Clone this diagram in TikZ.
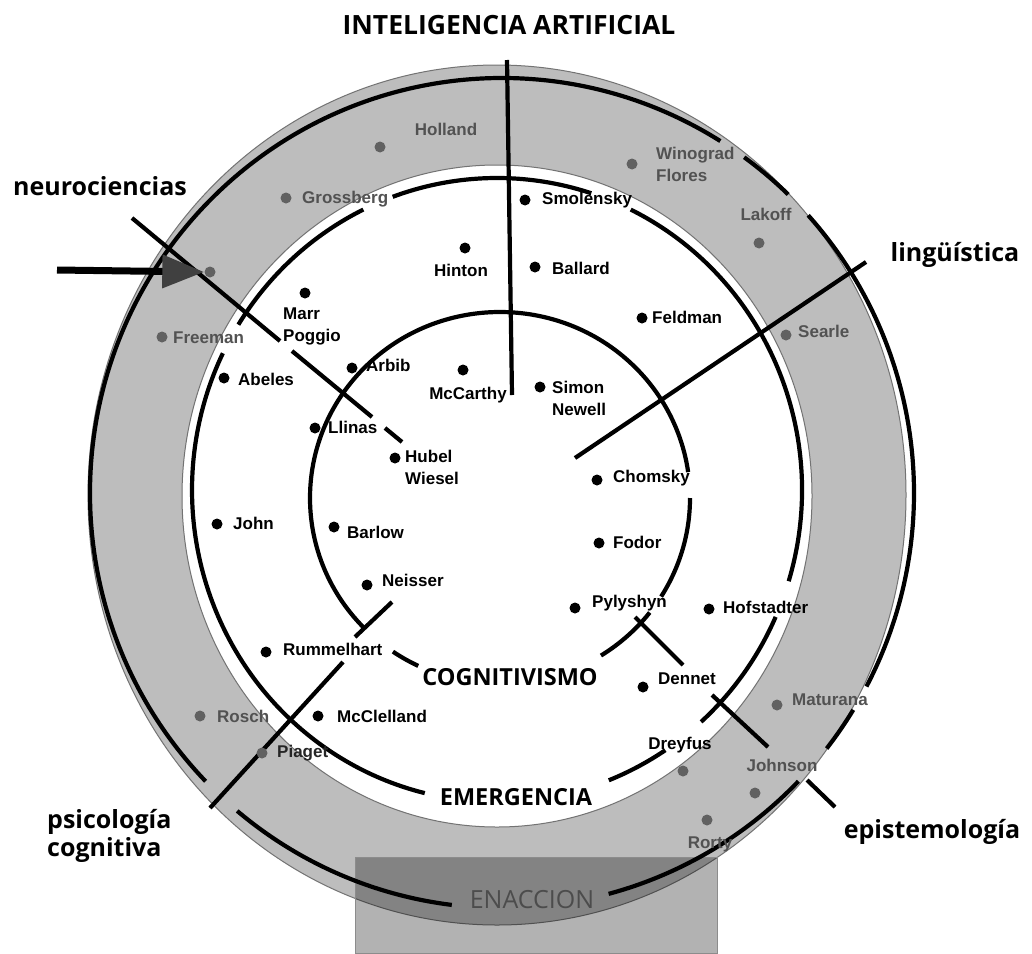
\documentclass[tikz,border=0pt]{standalone}
\usepackage{fontspec}
\setmainfont{Liberation Sans}
\newfontfamily\fieldfont{Open Sans}
\usetikzlibrary{arrows.meta,positioning}

\begin{document}
\begin{tikzpicture}[x=1pt,y=-1pt,
    ring/.style={fill=black!26,draw=black!55,line width=1pt,even odd rule},
    circ/.style={line width=4.2pt},
    axis/.style={line width=4.2pt},
    dot/.style={circle,fill=black,inner sep=0pt,minimum size=11pt},
    gdot/.style={circle,fill=black!62,inner sep=0pt,minimum size=11pt},
    who/.style={font=\fontsize{17}{22}\selectfont\bfseries,inner sep=0pt,align=left},
    gwho/.style={who,text=black!68},
    field/.style={font=\fieldfont\fontsize{25}{28}\selectfont\bfseries,inner sep=0pt,align=left},
    school/.style={font=\fieldfont\fontsize{23.5}{28}\selectfont\bfseries,inner sep=0pt}]
\useasboundingbox (0,0) rectangle (1032,953);
\fill[white] (0,0) rectangle (1032,953);

% the three centres
\coordinate (enac) at (502,493);
\coordinate (emer) at (497,490);
\coordinate (cogn) at (500,498);

% grey ring and the box at the bottom
\fill[ring] (497,495) ellipse[x radius=409,y radius=430] (497,496) ellipse[x radius=315,y radius=331];
\filldraw[fill=black,fill opacity=.3,draw=black!45] (355,857) rectangle (717,953);

% ENACCION
\draw[circ] (enac) ++(97:412 and 415) arc[start angle=97,end angle=130,x radius=412,y radius=415];
\draw[circ] (enac) ++(136:412 and 415) arc[start angle=136,end angle=302,x radius=412,y radius=415];
\draw[circ] (enac) ++(306:412 and 415) arc[start angle=306,end angle=314,x radius=412,y radius=415];
\draw[circ] (enac) ++(318:412 and 415) arc[start angle=318,end angle=387.8,x radius=412,y radius=415];
\draw[circ] (enac) ++(391.5:412 and 415) arc[start angle=391.5,end angle=398,x radius=412,y radius=415];
\draw[circ] (enac) ++(404:412 and 415) arc[start angle=404,end angle=435,x radius=412,y radius=415];
% EMERGENCIA
\draw[circ] (emer) ++(103.7:305 and 312) arc[start angle=103.7,end angle=206,x radius=305,y radius=312];
\draw[circ] (emer) ++(212:305 and 312) arc[start angle=212,end angle=244,x radius=305,y radius=312];
\draw[circ] (emer) ++(250:305 and 312) arc[start angle=250,end angle=288,x radius=305,y radius=312];
\draw[circ] (emer) ++(296:305 and 312) arc[start angle=296,end angle=377,x radius=305,y radius=312];
\draw[circ] (emer) ++(384:305 and 312) arc[start angle=384,end angle=408,x radius=305,y radius=312];
\draw[circ] (emer) ++(416.5:305 and 312) arc[start angle=416.5,end angle=428.5,x radius=305,y radius=312];
% COGNITIVISMO
\draw[circ] (cogn) ++(115.5:190 and 186) arc[start angle=115.5,end angle=124.3,x radius=190,y radius=186];
\draw[circ] (cogn) ++(136:190 and 186) arc[start angle=136,end angle=352,x radius=190,y radius=186];
\draw[circ] (cogn) ++(360:190 and 186) arc[start angle=360,end angle=392,x radius=190,y radius=186];
\draw[circ] (cogn) ++(398:190 and 186) arc[start angle=398,end angle=417.9,x radius=190,y radius=186];

% dividing lines
\coordinate (ia-a) at (507,60);   \coordinate (ia-b) at (512,395);
\coordinate (li-a) at (866,262);  \coordinate (li-b) at (575,458);
\coordinate (ne-a) at (132,218);  \coordinate (ne-b) at (280,341);
\coordinate (ne-c) at (292,351);  \coordinate (ne-d) at (372,417);
\coordinate (ne-e) at (385,428);  \coordinate (ne-f) at (402,442);
\coordinate (ps-a) at (210,808);  \coordinate (ps-b) at (343,662);
\coordinate (ps-c) at (355,637);  \coordinate (ps-d) at (392,602);
\coordinate (ep-a) at (635,617);  \coordinate (ep-b) at (683,665);
\coordinate (ep-c) at (712,695);  \coordinate (ep-d) at (768,747);
\coordinate (ep-e) at (807,780);  \coordinate (ep-f) at (835,807);
\draw[axis] (ia-a) -- (ia-b);
\draw[axis] (li-a) -- (li-b);
\draw[axis] (ne-a) -- (ne-b) (ne-c) -- (ne-d) (ne-e) -- (ne-f);
\draw[axis] (ps-a) -- (ps-b) (ps-c) -- (ps-d);
\draw[axis] (ep-a) -- (ep-b) (ep-c) -- (ep-d) (ep-e) -- (ep-f);

% people in the ring
\node[gdot] (holland) at (380,147) {};
\node[gwho] (holland-t) at (446,129) {Holland};
\node[gdot] (grossberg) at (286,198) {};
\node[gwho,anchor=west] (grossberg-t) at (302,199) {Grossberg};
\node[gdot] (freeman) at (162,337) {};
\node[gwho,anchor=west] (freeman-t) at (173,338) {Freeman};
\node[gdot] (arrowdot) at (210,272) {};
\node[gdot] (winograd) at (632,164) {};
\node[gwho,anchor=west] (winograd-t) at (656,164) {Winograd\\Flores};
\node[gdot] (lakoff) at (759,243) {};
\node[gwho] (lakoff-t) at (766,214) {Lakoff};
\node[gdot] (searle) at (786,335) {};
\node[gwho,anchor=west] (searle-t) at (798,331) {Searle};
\node[gdot] (maturana) at (777,705) {};
\node[gwho,anchor=west] (maturana-t) at (792,700) {Maturana};
\node[gdot] (johnson) at (755,793) {};
\node[gwho] (johnson-t) at (782,765) {Johnson};
\node[gdot] (rorty) at (707,820) {};
\node[gwho] (rorty-t) at (710,844) {Rorty};
\node[gdot] (dreyfus) at (683,771) {};
\node[who] (dreyfus-t) at (680,745) {Dreyfus};
\node[gdot] (rosch) at (200,716) {};
\node[gwho,anchor=west] (rosch-t) at (217,716) {Rosch};
\node[gdot] (piaget) at (262,753) {};
\node[gwho,anchor=west,text=black!85] (piaget-t) at (277,753) {Piaget};

% people inside
\node[dot] (abeles) at (224,378) {};
\node[who,anchor=west] (abeles-t) at (238,379) {Abeles};
\node[dot] (marr) at (305,293) {};
\node[who,anchor=west] (marr-t) at (283,326) {Marr\\Poggio};
\node[dot] (arbib) at (352,368) {};
\node[who,anchor=west] (arbib-t) at (366,365) {Arbib};
\node[dot] (llinas) at (315,428) {};
\node[who,anchor=west] (llinas-t) at (328,427) {Llinas};
\node[dot] (hubel) at (395,458) {};
\node[who,anchor=west] (hubel-t) at (405,467) {Hubel\\Wiesel};
\node[dot] (mccarthy) at (463,370) {};
\node[who] (mccarthy-t) at (468,395) {McCarthy};
\node[dot] (hinton) at (465,248) {};
\node[who] (hinton-t) at (461,270) {Hinton};
\node[dot] (smolensky) at (525,200) {};
\node[who,anchor=west] (smolensky-t) at (542,200) {Smolensky};
\node[dot] (ballard) at (535,267) {};
\node[who,anchor=west] (ballard-t) at (552,268) {Ballard};
\node[dot] (feldman) at (642,318) {};
\node[who,anchor=west] (feldman-t) at (652,317) {Feldman};
\node[dot] (simon) at (540,387) {};
\node[who,anchor=west] (simon-t) at (552,398) {Simon\\Newell};
\node[dot] (chomsky) at (597,480) {};
\node[who,anchor=west] (chomsky-t) at (613,478) {Chomsky};
\node[dot] (fodor) at (599,543) {};
\node[who,anchor=west] (fodor-t) at (613,542) {Fodor};
\node[dot] (pylyshyn) at (575,608) {};
\node[who,anchor=west] (pylyshyn-t) at (592,603) {Pylyshyn};
\node[dot] (hofstadter) at (709,609) {};
\node[who,anchor=west] (hofstadter-t) at (723,607) {Hofstadter};
\node[dot] (dennet) at (643,687) {};
\node[who,anchor=west] (dennet-t) at (658,679) {Dennet};
\node[dot] (john) at (217,524) {};
\node[who,anchor=west] (john-t) at (233,523) {John};
\node[dot] (barlow) at (334,527) {};
\node[who,anchor=west] (barlow-t) at (347,532) {Barlow};
\node[dot] (neisser) at (367,585) {};
\node[who,anchor=west] (neisser-t) at (382,580) {Neisser};
\node[dot] (rummelhart) at (266,652) {};
\node[who,anchor=west] (rummelhart-t) at (283,649) {Rummelhart};
\node[dot] (mcclelland) at (318,716) {};
\node[who,anchor=west] (mcclelland-t) at (337,716) {McClelland};

% arrow into the ring
\coordinate (arr-a) at (57,270);
\draw[line width=7pt,-{Triangle[length=42pt,width=32pt,color=black!75]}] (arr-a) -- (arrowdot.west);

% schools
\node[school] (cog-t) at (510,677) {COGNITIVISMO};
\node[school] (emer-t) at (516,797) {EMERGENCIA};
\node[school,font=\fieldfont\fontsize{25}{28}\selectfont,text=black!70] (enac-t) at (532,900) {ENACCION};

% fields
\node[field,font=\fieldfont\fontsize{26.5}{30}\selectfont\bfseries] (ia) at (509,25) {INTELIGENCIA ARTIFICIAL};
\node[field] (neuro) at (100,186) {neurociencias};
\node[field] (ling) at (955,255) {lingüística};
\node[field,anchor=west] (psico) at (47,836) {psicología\\cognitiva};
\node[field] (episte) at (932,832) {epistemología};
\end{tikzpicture}
\end{document}
